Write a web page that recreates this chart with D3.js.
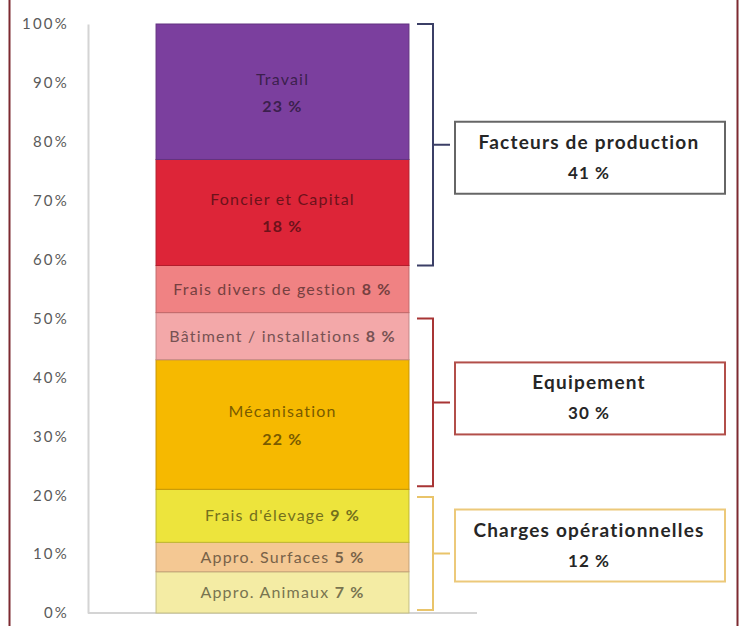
<!DOCTYPE html>
<html lang="fr">
<head>
<meta charset="UTF-8">
<style>
    body { margin: 0; background: #fff; }
    svg { display: block; font-family: Lato, "Open Sans", sans-serif; }
</style>
</head>
<body>
<div id="chart"></div>
<script src="https://cdn.jsdelivr.net/npm/d3@7"></script>
<script>

    // postes de coût, du bas vers le haut de la barre
    var postes = ["Appro. Animaux", "Appro. Surfaces", "Frais d'élevage", "Mécanisation",
        "Bâtiment / installations", "Frais divers de gestion", "Foncier et Capital", "Travail"];
    var valeurs = [7, 5, 9, 22, 8, 8, 18, 23];
    var couleurs = ["#f4eca4", "#f4c893", "#ede43c", "#f6b900", "#f3a8a9", "#f08283", "#dd2538", "#7b3f9e"];
    // les gros blocs sont ecrits sur deux lignes
    var deuxLignes = [false, false, false, true, false, false, true, true];

    // regroupements (accolades de droite) : bornes en %
    var groupes = ["Facteurs de production", "Equipement", "Charges opérationnelles"];
    var groupeValeurs = [41, 30, 12];
    var groupeDebut = [59, 21.5, 0.5];
    var groupeFin = [100, 50, 19.7];
    var groupeCouleurs = ["#3b3f66", "#a83535", "#e9c46a"];
    var boiteCouleurs = ["#666666", "#b24f4a", "#ecc97a"];

    var ticks = [0, 10, 20, 30, 40, 50, 60, 70, 80, 90, 100];

    var width = 740, height = 626;
    var boxDy = [13, -4, -8]; // decalage vertical des encadres

    var svg = d3.select("#chart").append("svg")
        .attr("width", width)
        .attr("height", height);

    // cadre rouge sombre
    svg.append("line").attr("x1", 9.5).attr("x2", 9.5).attr("y1", 0).attr("y2", height)
        .attr("stroke", "#7d2a31").attr("stroke-width", 2);
    svg.append("line").attr("x1", 737.5).attr("x2", 737.5).attr("y1", 0).attr("y2", height)
        .attr("stroke", "#7d2a31").attr("stroke-width", 2);

    var y = d3.scaleLinear().domain([0, 100]).range([613, 24]);
    var x = d3.scaleBand().domain(["Coûts"]).range([88, 477]).padding(0.212);

    // axe
    var yAxis = svg.append("g")
        .attr("transform", "translate(88,0)")
        .call(d3.axisLeft(y).tickValues(ticks).tickSize(0).tickPadding(19)
            .tickFormat(function (d) { return d + "%"; }));
    yAxis.select(".domain").attr("stroke", "#d4d4d4").attr("stroke-width", 2);
    yAxis.selectAll("text")
        .style("font-family", "Lato, sans-serif")
        .style("font-size", "15px")
        .style("letter-spacing", "2.2px")
        .attr("fill", "#5a5a5a");

    svg.append("line")
        .attr("x1", 88).attr("x2", 477)
        .attr("y1", y(0)).attr("y2", y(0))
        .attr("stroke", "#d4d4d4").attr("stroke-width", 2);

    // empilement
    var segs = [];
    var cum = 0;
    postes.forEach(function (p, i) {
        segs.push({ nom: p, v: valeurs[i], y0: cum, y1: cum + valeurs[i], c: couleurs[i], deux: deuxLignes[i] });
        cum += valeurs[i];
    });

    var bar = svg.append("g");
    bar.selectAll("rect")
        .data(segs)
        .enter().append("rect")
        .attr("x", x("Coûts"))
        .attr("width", x.bandwidth())
        .attr("y", function (d) { return y(d.y1); })
        .attr("height", function (d) { return y(d.y0) - y(d.y1); })
        .attr("fill", function (d) { return d.c; })
        .attr("stroke", function (d) { return d3.color(d.c).darker(0.6); })
        .attr("stroke-width", 1);

    var cx = x("Coûts") + x.bandwidth() / 2;
    var lab = bar.selectAll(".lab")
        .data(segs)
        .enter().append("text")
        .attr("class", "lab")
        .attr("text-anchor", "middle")
        .attr("x", cx)
        .attr("y", function (d) { return (y(d.y0) + y(d.y1)) / 2; })
        .style("font-size", "16px")
        .style("letter-spacing", "1.2px")
        .attr("fill", function (d) { return d3.color(d.c).darker(2); });

    lab.each(function (d) {
        var t = d3.select(this);
        if (d.deux) {
            t.append("tspan").attr("x", cx).attr("dy", "-0.45em").text(d.nom);
            t.append("tspan").attr("x", cx).attr("dy", "1.7em")
                .style("font-weight", "bold").text(d.v + " %");
        } else {
            t.attr("dy", "0.35em");
            t.append("tspan").text(d.nom + " ");
            t.append("tspan").style("font-weight", "bold").text(d.v + " %");
        }
    });

    // accolades et encadres
    var bx = 433;
    groupes.forEach(function (g, i) {
        var top = y(groupeFin[i]), bot = y(groupeDebut[i]), mid = (top + bot) / 2;
        var col = groupeCouleurs[i];
        svg.append("path")
            .attr("d", "M417," + top + "H" + bx + "V" + bot + "H417M" + bx + "," + mid + "H450")
            .attr("fill", "none")
            .attr("stroke", col)
            .attr("stroke-width", 2);

        var cy = mid + boxDy[i];
        svg.append("rect")
            .attr("x", 455).attr("y", cy - 36)
            .attr("width", 270).attr("height", 72)
            .attr("fill", "#fff")
            .attr("stroke", boiteCouleurs[i])
            .attr("stroke-width", 2);

        svg.append("text")
            .attr("x", 589).attr("y", cy - 9)
            .attr("text-anchor", "middle")
            .style("font-size", "19px")
            .style("letter-spacing", "1.2px")
            .style("font-weight", "bold")
            .attr("fill", "#262626")
            .text(g);
        svg.append("text")
            .attr("x", 589).attr("y", cy + 21)
            .attr("text-anchor", "middle")
            .style("font-size", "17px")
            .style("letter-spacing", "1px")
            .style("font-weight", "bold")
            .attr("fill", "#262626")
            .text(groupeValeurs[i] + " %");
    });
</script>
</body>
</html>
